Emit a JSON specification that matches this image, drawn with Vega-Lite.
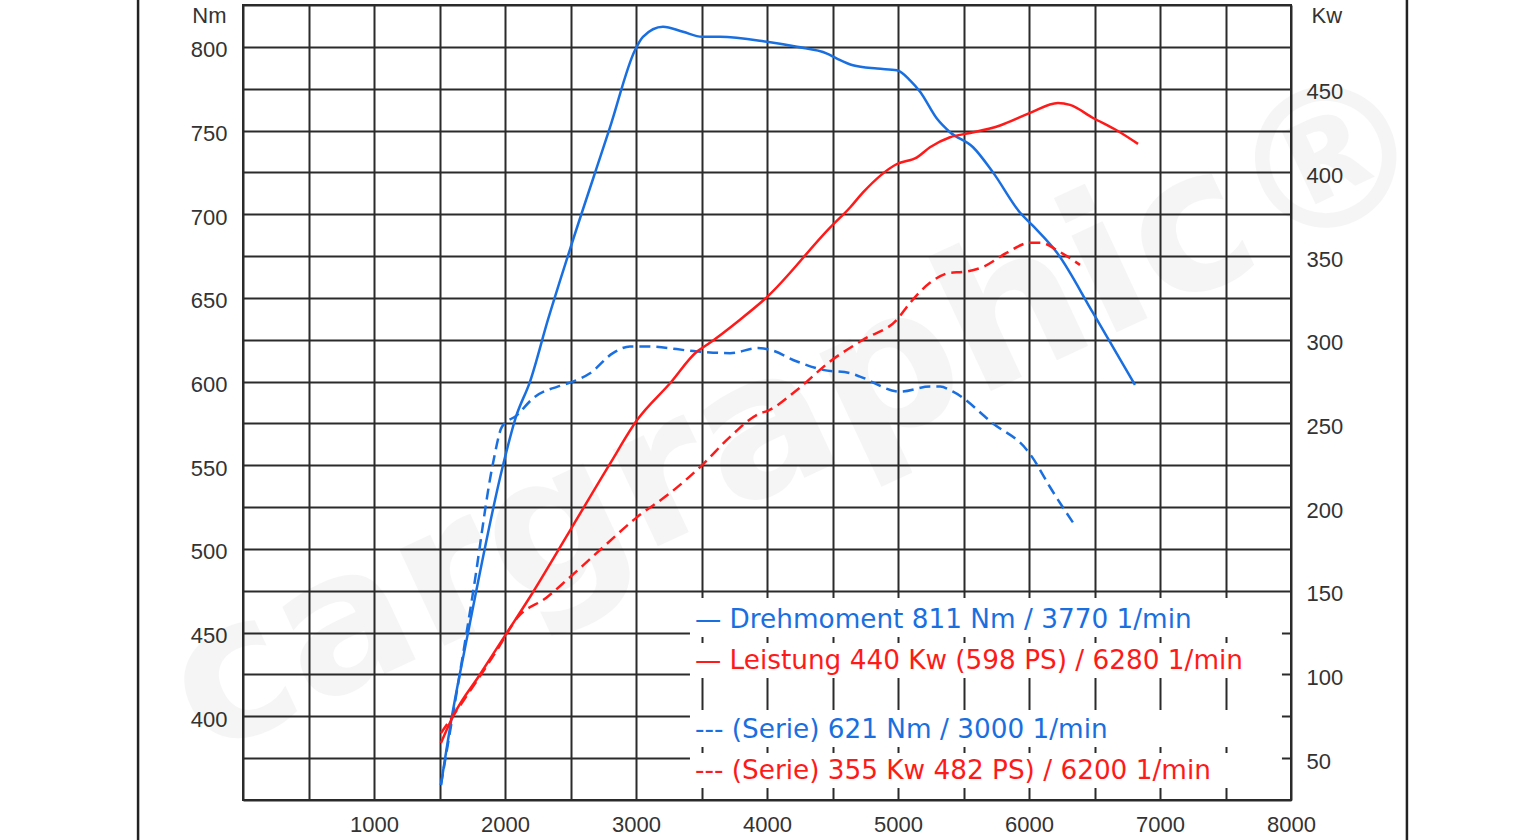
{
  "$schema": "https://vega.github.io/schema/vega-lite/v6.json",
  "width": 1048,
  "height": 795,
  "autosize": {"type": "none"},
  "padding": {"left": 243, "top": 5, "right": 249, "bottom": 40},
  "background": "white",
  "config": {
    "view": {"stroke": "#2b2b2b", "strokeWidth": 2},
    "axis": {
      "labelFont": "Liberation Sans",
      "labelFontSize": 22,
      "labelColor": "#333333",
      "titleFont": "Liberation Sans",
      "titleFontSize": 22,
      "titleFontWeight": "normal",
      "titleColor": "#333333",
      "gridColor": "#2b2b2b",
      "gridWidth": 2,
      "gridOpacity": 1,
      "ticks": false,
      "domain": false,
      "labelOverlap": false,
      "labelFlush": false
    }
  },
  "datasets": {
    "torque_tuned": [
      {"rpm": 1511, "nm": 359}, {"rpm": 1595, "nm": 400}, {"rpm": 1718, "nm": 450},
      {"rpm": 1985, "nm": 550}, {"rpm": 2084, "nm": 579}, {"rpm": 2191, "nm": 600},
      {"rpm": 2328, "nm": 637}, {"rpm": 2496, "nm": 679}, {"rpm": 2802, "nm": 752},
      {"rpm": 2992, "nm": 798}, {"rpm": 3053, "nm": 806}, {"rpm": 3206, "nm": 812},
      {"rpm": 3359, "nm": 809}, {"rpm": 3504, "nm": 806}, {"rpm": 3641, "nm": 806},
      {"rpm": 4000, "nm": 803}, {"rpm": 4229, "nm": 800}, {"rpm": 4458, "nm": 796},
      {"rpm": 4534, "nm": 793}, {"rpm": 4656, "nm": 789}, {"rpm": 4840, "nm": 787},
      {"rpm": 4992, "nm": 786}, {"rpm": 5092, "nm": 780}, {"rpm": 5170, "nm": 773},
      {"rpm": 5298, "nm": 757}, {"rpm": 5397, "nm": 749}, {"rpm": 5573, "nm": 740},
      {"rpm": 5725, "nm": 725}, {"rpm": 5931, "nm": 701}, {"rpm": 6031, "nm": 693},
      {"rpm": 6214, "nm": 677}, {"rpm": 6489, "nm": 641}, {"rpm": 6809, "nm": 598}
    ],
    "torque_serie": [
      {"rpm": 1511, "nm": 359}, {"rpm": 1756, "nm": 474}, {"rpm": 1908, "nm": 551},
      {"rpm": 1977, "nm": 573}, {"rpm": 2092, "nm": 580}, {"rpm": 2214, "nm": 590},
      {"rpm": 2443, "nm": 598}, {"rpm": 2519, "nm": 600}, {"rpm": 2649, "nm": 605},
      {"rpm": 2824, "nm": 617}, {"rpm": 2954, "nm": 621}, {"rpm": 3084, "nm": 621},
      {"rpm": 3466, "nm": 618}, {"rpm": 3718, "nm": 617}, {"rpm": 3931, "nm": 620},
      {"rpm": 4023, "nm": 619}, {"rpm": 4229, "nm": 612}, {"rpm": 4427, "nm": 607},
      {"rpm": 4634, "nm": 605}, {"rpm": 4710, "nm": 603}, {"rpm": 5015, "nm": 594},
      {"rpm": 5244, "nm": 597}, {"rpm": 5321, "nm": 597}, {"rpm": 5420, "nm": 594},
      {"rpm": 5725, "nm": 575}, {"rpm": 5985, "nm": 559}, {"rpm": 6023, "nm": 555},
      {"rpm": 6160, "nm": 537}, {"rpm": 6351, "nm": 514}
    ],
    "power_tuned": [
      {"rpm": 1511, "kw": 59}, {"rpm": 1603, "kw": 75}, {"rpm": 1809, "kw": 100},
      {"rpm": 2015, "kw": 125}, {"rpm": 2176, "kw": 144.5}, {"rpm": 2496, "kw": 186},
      {"rpm": 2802, "kw": 226}, {"rpm": 3008, "kw": 252}, {"rpm": 3260, "kw": 274},
      {"rpm": 3466, "kw": 293}, {"rpm": 3542, "kw": 297}, {"rpm": 3794, "kw": 312},
      {"rpm": 4000, "kw": 325.5}, {"rpm": 4481, "kw": 367}, {"rpm": 4634, "kw": 379},
      {"rpm": 4733, "kw": 388}, {"rpm": 4992, "kw": 405}, {"rpm": 5145, "kw": 409},
      {"rpm": 5244, "kw": 415}, {"rpm": 5397, "kw": 421}, {"rpm": 5550, "kw": 423.5},
      {"rpm": 5779, "kw": 428}, {"rpm": 6008, "kw": 435.5}, {"rpm": 6221, "kw": 441.4},
      {"rpm": 6313, "kw": 440.3}, {"rpm": 6489, "kw": 432.5}, {"rpm": 6672, "kw": 425},
      {"rpm": 6832, "kw": 417}
    ],
    "power_serie": [
      {"rpm": 1511, "kw": 65}, {"rpm": 1618, "kw": 77}, {"rpm": 1939, "kw": 114.6},
      {"rpm": 2092, "kw": 133.7}, {"rpm": 2318, "kw": 146}, {"rpm": 2471, "kw": 156.4},
      {"rpm": 2748, "kw": 176}, {"rpm": 3008, "kw": 194}, {"rpm": 3260, "kw": 208.4},
      {"rpm": 3504, "kw": 225}, {"rpm": 3718, "kw": 242}, {"rpm": 3947, "kw": 256},
      {"rpm": 4000, "kw": 257.4}, {"rpm": 4229, "kw": 270}, {"rpm": 4481, "kw": 287},
      {"rpm": 4733, "kw": 300}, {"rpm": 4992, "kw": 312}, {"rpm": 5092, "kw": 322},
      {"rpm": 5244, "kw": 334}, {"rpm": 5397, "kw": 340}, {"rpm": 5496, "kw": 340.5},
      {"rpm": 5649, "kw": 343.5}, {"rpm": 5832, "kw": 352}, {"rpm": 6008, "kw": 358},
      {"rpm": 6084, "kw": 358}, {"rpm": 6237, "kw": 352.4}, {"rpm": 6389, "kw": 344.7}
    ],
    "legend_rows": [
      {"rpm": 3450, "nm": 452.8, "kind": "torque", "label": "— Drehmoment 811 Nm / 3770 1/min"},
      {"rpm": 3450, "nm": 428.3, "kind": "power", "label": "— Leistung 440 Kw (598 PS) / 6280 1/min"},
      {"rpm": 3450, "nm": 387, "kind": "torque", "label": "--- (Serie) 621 Nm / 3000 1/min"},
      {"rpm": 3450, "nm": 362.6, "kind": "power", "label": "--- (Serie) 355 Kw 482 PS) / 6200 1/min"}
    ],
    "legend_boxes": [
      {"rpm": 3412, "rpm2": 7931, "nm": 470.7, "nm2": 447.4},
      {"rpm": 3412, "rpm2": 7931, "nm": 443.8, "nm2": 422.9},
      {"rpm": 3412, "rpm2": 7931, "nm": 403.8, "nm2": 381.7},
      {"rpm": 3412, "rpm2": 7931, "nm": 378.1, "nm2": 357.2}
    ],
    "frame": [
      {"rpm": -801, "nm": 835, "nm2": 320},
      {"rpm": 8885, "nm": 835, "nm2": 320}
    ],
    "watermark": [
      {"rpm": 4250, "nm": 580, "label": "cargraphic®"}
    ]
  },
  "encoding": {
    "x": {
      "field": "rpm",
      "type": "quantitative",
      "scale": {"domain": [0, 8000], "nice": false, "zero": false},
      "axis": {
        "title": null,
        "values": [0, 500, 1000, 1500, 2000, 2500, 3000, 3500, 4000, 4500, 5000, 5500, 6000, 6500, 7000, 7500, 8000],
        "format": "d",
        "labelExpr": "datum.value >= 1000 && datum.value % 1000 == 0 ? datum.label : ''",
        "grid": true,
        "labelPadding": 14
      }
    }
  },
  "layer": [
    {
      "encoding": {
        "y": {
          "field": "nm",
          "type": "quantitative",
          "scale": {"domain": [350, 825], "nice": false, "zero": false},
          "axis": {
            "orient": "left",
            "title": "Nm",
            "titleAngle": 0,
            "titleAlign": "right",
            "titleBaseline": "middle",
            "titleX": -17,
            "titleY": 10,
            "values": [350, 375, 400, 425, 450, 475, 500, 525, 550, 575, 600, 625, 650, 675, 700, 725, 750, 775, 800, 825],
            "format": "d",
            "labelExpr": "datum.value >= 400 && datum.value <= 800 && datum.value % 50 == 0 ? datum.label : ''",
            "grid": true,
            "labelPadding": 16,
            "labelOffset": 3
          }
        }
      },
      "layer": [
        {
          "data": {"name": "watermark"},
          "mark": {"type": "text", "angle": -25, "align": "center", "baseline": "middle", "font": "DejaVu Sans", "fontWeight": "bold", "fontSize": 195, "color": "#000000", "opacity": 0.035},
          "encoding": {"text": {"field": "label"}}
        },
        {
          "data": {"name": "frame"},
          "mark": {"type": "rule", "color": "#222222", "strokeWidth": 2.5},
          "encoding": {"y2": {"field": "nm2"}}
        },
        {
          "data": {"name": "torque_serie"},
          "mark": {"type": "line", "color": "#1a6fe0", "strokeWidth": 2.5, "strokeDash": [11, 6], "interpolate": "monotone"},
          "encoding": {}
        },
        {
          "data": {"name": "torque_tuned"},
          "mark": {"type": "line", "color": "#1a6fe0", "strokeWidth": 2.5, "interpolate": "monotone"},
          "encoding": {}
        },
        {
          "data": {"name": "legend_boxes"},
          "mark": {"type": "rect", "color": "white"},
          "encoding": {"x2": {"field": "rpm2"}, "y2": {"field": "nm2"}}
        },
        {
          "data": {"name": "legend_rows"},
          "mark": {"type": "text", "align": "left", "baseline": "alphabetic", "font": "DejaVu Sans", "fontSize": 26.3},
          "encoding": {
            "text": {"field": "label"},
            "color": {"field": "kind", "type": "nominal", "scale": {"domain": ["torque", "power"], "range": ["#1a6fe0", "#ff1a1a"]}, "legend": null}
          }
        }
      ]
    },
    {
      "encoding": {
        "y": {
          "field": "kw",
          "type": "quantitative",
          "scale": {"domain": [25, 500], "nice": false, "zero": false},
          "axis": {
            "orient": "right",
            "title": "Kw",
            "titleAngle": 0,
            "titleAlign": "left",
            "titleBaseline": "middle",
            "titleX": 20,
            "titleY": 10,
            "values": [50, 100, 150, 200, 250, 300, 350, 400, 450],
            "format": "d",
            "grid": false,
            "labelPadding": 15,
            "labelOffset": 3
          }
        }
      },
      "layer": [
        {
          "data": {"name": "power_serie"},
          "mark": {"type": "line", "color": "#ff1a1a", "strokeWidth": 2.5, "strokeDash": [11, 6], "interpolate": "monotone"},
          "encoding": {}
        },
        {
          "data": {"name": "power_tuned"},
          "mark": {"type": "line", "color": "#ff1a1a", "strokeWidth": 2.5, "interpolate": "monotone"},
          "encoding": {}
        }
      ]
    }
  ],
  "resolve": {"scale": {"y": "independent"}, "axis": {"y": "independent"}}
}
